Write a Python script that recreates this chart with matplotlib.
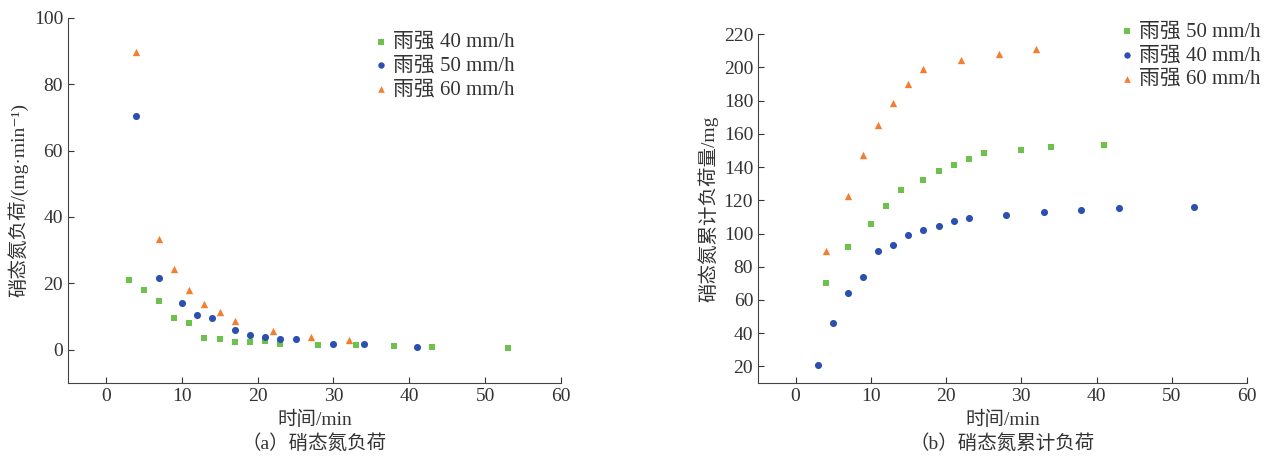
import matplotlib
matplotlib.use('Agg')
import matplotlib.pyplot as plt

plt.rcParams['font.family'] = ['Liberation Serif', 'Noto Sans CJK SC', 'DejaVu Serif']
plt.rcParams['axes.unicode_minus'] = False

## (a) load per minute
a_x40 = [3, 5, 7, 9, 11, 13, 15, 17, 19, 21, 23, 28, 33, 38, 43, 53]
a_y40 = [21.1, 18.0, 14.8, 9.6, 8.2, 3.6, 3.1, 2.4, 2.2, 2.6, 1.8, 1.4, 1.4, 1.1, 0.9, 0.6]
a_x50 = [4, 7, 10, 12, 14, 17, 19, 21, 23, 25, 30, 34, 41]
a_y50 = [70.4, 21.5, 14.1, 10.4, 9.5, 5.9, 4.6, 3.8, 3.2, 3.2, 1.8, 1.8, 0.8]
a_x60 = [4, 7, 9, 11, 13, 15, 17, 22, 27, 32]
a_y60 = [89.7, 33.5, 24.3, 18.0, 13.7, 11.3, 8.7, 5.6, 3.8, 2.8]

## (b) cumulative load
b_x50 = [4, 7, 10, 12, 14, 17, 19, 21, 23, 25, 30, 34, 41]
b_y50 = [70.0, 91.6, 105.9, 116.5, 126.1, 132.5, 137.4, 141.2, 144.8, 148.2, 150.2, 152.4, 153.2]
b_x40 = [3, 5, 7, 9, 11, 13, 15, 17, 19, 21, 23, 28, 33, 38, 43, 53]
b_y40 = [20.8, 46.1, 63.9, 74.0, 89.2, 93.0, 99.2, 102.0, 104.5, 107.3, 109.5, 110.9, 112.7, 114.1, 115.1, 115.9]
b_x60 = [4, 7, 9, 11, 13, 15, 17, 22, 27, 32]
b_y60 = [89.4, 122.7, 147.2, 165.4, 178.7, 189.9, 198.9, 204.6, 208.4, 211.2]

green = '#6cc24a'
blue = '#2b50b0'
orange = '#f47d30'
txt = '#333333'

fig = plt.figure(figsize=(12.75, 4.57), dpi=100)
ax1 = fig.add_axes([0.0533, 0.162, 0.3867, 0.799])
ax2 = fig.add_axes([0.5945, 0.162, 0.3835, 0.763])

ms = 22
leg_kw = dict(loc='upper right', frameon=False, fontsize=15, borderpad=0, borderaxespad=0,
              handletextpad=0.05, labelspacing=0.2, markerscale=0.9, handlelength=1.0,
              labelcolor=txt)

ax1.scatter(a_x40, a_y40, marker='s', s=ms, color=green, label='雨强 40 mm/h', lw=0)
ax1.scatter(a_x50, a_y50, marker='o', s=ms+4, color=blue, label='雨强 50 mm/h', lw=0)
ax1.scatter(a_x60, a_y60, marker='^', s=ms+6, color=orange, label='雨强 60 mm/h', lw=0)
ax1.set_xlim(-5, 60)
ax1.set_ylim(-10, 100)
ax1.set_yticks([0, 20, 40, 60, 80, 100])
ax1.set_ylabel('硝态氮负荷/(mg·min⁻¹)', fontsize=14, color=txt)
ax1.set_xlabel('时间/min\n（a）硝态氮负荷', fontsize=14, color=txt, linespacing=1.4)
ax1.legend(bbox_to_anchor=(0.905, 0.96), **leg_kw)

ax2.scatter(b_x50, b_y50, marker='s', s=ms, color=green, label='雨强 50 mm/h', lw=0)
ax2.scatter(b_x40, b_y40, marker='o', s=ms+4, color=blue, label='雨强 40 mm/h', lw=0)
ax2.scatter(b_x60, b_y60, marker='^', s=ms+6, color=orange, label='雨强 60 mm/h', lw=0)
ax2.set_xlim(-5, 60)
ax2.set_ylim(10, 220)
ax2.set_yticks(list(range(20, 221, 20)))
ax2.set_ylabel('硝态氮累计负荷量/mg', fontsize=14, color=txt)
ax2.set_xlabel('时间/min\n（b）硝态氮累计负荷', fontsize=14, color=txt, linespacing=1.4)
ax2.legend(bbox_to_anchor=(1.027, 1.035), **leg_kw)

for ax in (ax1, ax2):
    ax.set_xticks([0, 10, 20, 30, 40, 50, 60])
    ax.spines['top'].set_visible(False)
    ax.spines['right'].set_visible(False)
    ax.spines['left'].set_color('#444444')
    ax.spines['bottom'].set_color('#444444')
    ax.tick_params(direction='in', length=4, labelsize=14, colors=txt)

plt.savefig('out.png', dpi=100)
